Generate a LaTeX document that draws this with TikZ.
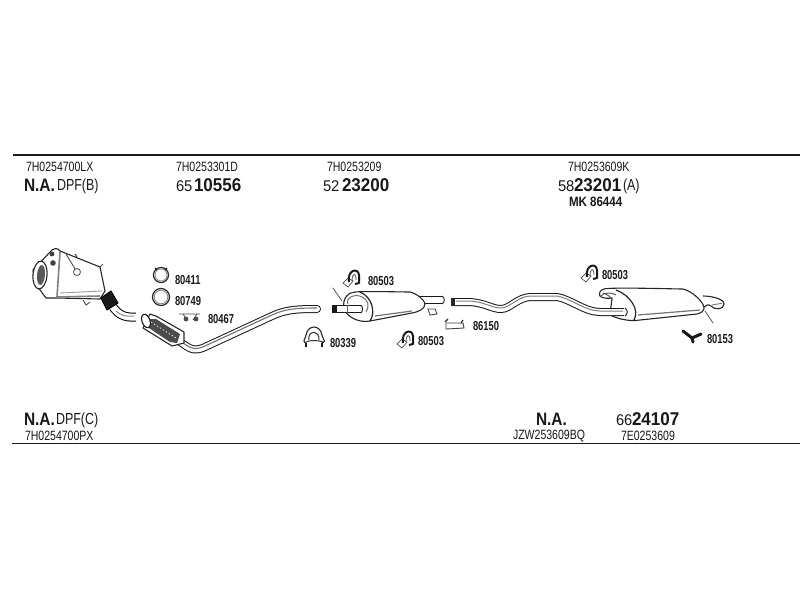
\documentclass[tikz,border=0pt]{standalone}
\usepackage{fontspec}
\setmainfont{Liberation Sans}
\newfontfamily\narf[FakeStretch=0.78]{Liberation Sans}
\newfontfamily\midf[FakeStretch=0.95]{Liberation Sans}
\newfontfamily\narb[FakeStretch=0.72]{Liberation Sans Bold}
\newfontfamily\nab[FakeStretch=0.86]{Liberation Sans Bold}
\newfontfamily\bigb[FakeStretch=0.92]{Liberation Sans Bold}
\begin{document}
\begin{tikzpicture}[x=1pt,y=-1pt,
  every node/.style={inner sep=0pt,outer sep=0pt,text=black!90,anchor=west},
  code/.style={font=\narf\fontsize{13.5}{14}\selectfont},
  small/.style={font=\narf\fontsize{16}{17}\selectfont},
  pre/.style={font=\midf\fontsize{15.5}{16}\selectfont},
  num/.style={font=\bigb\fontsize{18.5}{19}\selectfont},
  nalabel/.style={font=\nab\fontsize{18}{19}\selectfont},
  part/.style={font=\narb\fontsize{13}{14}\selectfont},
  ln/.style={draw=black!85,line width=1pt,line join=round,line cap=round},
  thin/.style={draw=black!60,line width=0.9pt,line cap=round},
  hanger/.pic={
    \fill[white,draw=black!70,line width=.7pt] (-9,6) -- (-4,1) -- (1,4) -- (-4,10) -- cycle;
    \draw[black!90,line width=2pt,line join=round] (-3,5) .. controls (-5,-7) and (6,-10) .. (7,-2) -- (7,6) -- (3,7);
    \draw[black!65,line width=.8pt] (0,4) .. controls (0,-4) and (4,-5) .. (4,3);
  }]
\useasboundingbox (0,0) rectangle (800,600);
\fill[white] (0,0) rectangle (800,600);
% rules
\coordinate (tl) at (13,155); \coordinate (tr) at (800,155);
\coordinate (bl) at (12,443.5); \coordinate (br) at (800,443.5);
\draw[black!90,line width=1.7pt] (tl) -- (tr);
\draw[black!90,line width=1.7pt] (bl) -- (br);
% top texts
\node[code] (t1) at (26,167) {7H0254700LX};
\node[nalabel] (t2) at (24,185) {N.A.};
\node[small] (t3) at (57,186) {DPF(B)};
\node[code] (t4) at (176,167) {7H0253301D};
\node[pre] (t5) at (176,186) {65};
\node[num] (t6) at (194,185) {10556};
\node[code] (t7) at (327,167) {7H0253209};
\node[pre] (t8) at (323,186) {52};
\node[num] (t9) at (342,185) {23200};
\node[code] (t10) at (568,167) {7H0253609K};
\node[pre] (t11) at (558,186) {58};
\node[num] (t12) at (574,185) {23201};
\node[small] (t13) at (623,186) {(A)};
\node[font=\nab\fontsize{13.5}{14}\selectfont] (t14) at (569,202) {MK\hspace{3pt}86444};
% bottom texts
\node[nalabel] (b1) at (24,419) {N.A.};
\node[small] (b2) at (56,420) {DPF(C)};
\node[code] (b3) at (25,436) {7H0254700PX};
\node[nalabel] (b4) at (536,419) {N.A.};
\node[code] (b5) at (513,436) {JZW253609BQ};
\node[pre] (b6) at (616,420) {66};
\node[num] (b7) at (632,419) {24107};
\node[code] (b8) at (621,436) {7E0253609};
% part labels
\node[part] (p1) at (175,280) {80411};
\node[part] (p2) at (175,301) {80749};
\node[part] (p3) at (208,319) {80467};
\node[part] (p4) at (368,281) {80503};
\node[part] (p5) at (330,343) {80339};
\node[part] (p6) at (418,341) {80503};
\node[part] (p7) at (473,326) {86150};
\node[part] (p8) at (602,275) {80503};
\node[part] (p9) at (707,339) {80153};
% DPF canister
\draw[ln,fill=white,line width=1.1pt] (52,250) .. controls (55,248) and (58,248) .. (60,251)
  -- (100,267) -- (105,291) -- (100,299) -- (57,298) -- (46,298) -- (35,283) -- (33,270) -- cycle;
\draw[black!50,line width=1.6pt] (60,252) -- (57,297) -- (100,296);
\draw[black!40,line width=.9pt] (60,293) -- (102,291);
\fill[white,draw=black!85,line width=1.1pt,rotate around={-5:(40,275)}] (40,275) ellipse (7 and 14);
\fill[black!65,rotate around={-5:(41,275)}] (41,275) ellipse (4 and 10);
\fill[black!75] (52,254) circle (2.4) (53,263) circle (2.8);
\draw[black!70,line width=.9pt] (66,254) -- (77,272);
\draw[black!70,line width=.8pt,fill=white] (77,272) circle (3.5);
\draw[black!70,line width=1pt] (75,254) -- (77,257) (100,267) -- (103,264);
\draw[black!70,line width=.9pt,fill=white] (83,300) -- (86,305) -- (90,302);
% flex and outlet
\draw[black,line width=9pt,line cap=butt] (113,307) .. controls (118,314) and (124,318) .. (136,317);
\draw[white,line width=7pt,line cap=round] (113,307) .. controls (118,314) and (124,318) .. (136,317);
\draw[black!45,line width=1pt] (116,311) .. controls (120,315) and (125,317) .. (134,316);
\fill[black!90,line join=round,draw=black,line width=1pt] (101,298) -- (111,291) -- (118,303) -- (107,310) -- cycle;
% front pipe
\draw[black!90,line width=8pt,line cap=round,line join=round] (170,335) -- (186,346) .. controls (192,350) and (196,351) .. (205,347) -- (272,316) .. controls (285,310) and (295,309) .. (317,309);
\draw[white,line width=6pt,line cap=round,line join=round] (170,335) -- (186,346) .. controls (192,350) and (196,351) .. (205,347) -- (272,316) .. controls (285,310) and (295,309) .. (317,309);
\draw[black!55,line width=1.1pt,line join=round] (172,335) -- (186,345) .. controls (192,349) and (196,350) .. (205,346) -- (272,315) .. controls (285,309) and (295,308) .. (317,308);
\fill[white,draw=black!85,line width=1.1pt,line join=round] (150,314) -- (156,316) -- (184,332) -- (184,343) -- (172,346) -- (143,328) -- cycle;
\fill[black!70] (148,319) -- (156,319) -- (180,334) -- (177,343) -- (170,342) -- (146,326) -- cycle;
\draw[white,line width=.6pt,dash pattern=on 1.5pt off 2pt] (151,322) -- (176,338);
\fill[white,draw=black!90,line width=1.1pt,rotate around={20:(146,321)}] (146,321) ellipse (4 and 7);
% rings
\draw[black!85,line width=1.2pt] (161,275) circle (7.5);
\draw[black!45,line width=.8pt] (161,275) circle (6);
\draw[black!90,line width=1.2pt] (155,268) -- (157,270) (167,268) -- (165,270);
\draw[black!85,line width=1.2pt] (161,297) circle (8.5);
\draw[black!45,line width=.9pt] (161,297) circle (6.8);
% gasket 80467
\draw[black!70,line width=.8pt] (179,314) -- (200,314) (183,314) -- (187,320) (197,314) -- (193,320);
\fill[black!70] (186,319) circle (2.4) (196,319) circle (2.4);
% clamp 80339
\draw[black!85,line width=1.1pt,line join=round] (306,346) -- (306,343) .. controls (303,342) and (304,340) .. (305,338) .. controls (307,334) and (306,328) .. (314,327)
  .. controls (322,328) and (321,334) .. (323,338) .. controls (325,340) and (325,342) .. (322,343) -- (322,346);
\draw[black!80,line width=1pt] (306,342) .. controls (311,340) and (317,340) .. (323,342);
\draw[black!80,line width=1pt] (309,340) .. controls (307,330) and (320,330) .. (319,340);
\draw[black!90,line width=1.8pt] (306,343) -- (306,347) (322,343) -- (322,347);
% hangers
\pic at (352,277) {hanger};
\pic at (406,338) {hanger};
\pic at (590,272) {hanger};
% mid muffler
\draw[thin] (333,288) -- (342,301);
\draw[black!90,line width=8pt,line cap=butt] (420,300) -- (443,300);
\draw[white,line width=6pt,line cap=round] (420,300) -- (442,300);
\draw[black!90,line width=.9pt,fill=white] (442,296) .. controls (445,297) and (445,303) .. (442,304);
\draw[black!75,line width=.9pt,fill=white] (428,309) -- (435,309) -- (437,314) -- (430,315) -- cycle;
\draw[ln,fill=white,line width=1.1pt] (355,292) .. controls (365,291) and (400,292) .. (410,292) .. controls (418,294) and (425,301) .. (425,304)
  .. controls (425,309) and (418,312) .. (412,313) -- (370,321) .. controls (360,323) and (347,318) .. (344,308) .. controls (342,298) and (349,292) .. (355,292) -- cycle;
\draw[black!85,line width=1.2pt] (360,292) .. controls (372,297) and (376,312) .. (370,321);
\draw[black!55,line width=1.2pt] (375,316) -- (412,311);
\draw[black!60,line width=.9pt] (348,304) .. controls (345,298) and (355,293) .. (362,297) .. controls (368,300) and (370,305) .. (366,312);
\draw[black!90,line width=8pt,line cap=butt] (335,309) -- (361,309);
\draw[white,line width=6pt,line cap=butt] (337,309) -- (361,309);
\draw[black!90,line width=.9pt] (361,305) .. controls (363,307) and (363,311) .. (361,313);
\draw[black!60,line width=.8pt] (347,305) -- (347,313);
\fill[black!90] (332,305) rectangle (337,313);
% clip 86150
\draw[black!75,line width=.9pt,fill=white] (446,323) -- (463,323) -- (464,328) -- (446,329) -- cycle;
\draw[black!85,line width=1.2pt] (445,322) -- (448,319) (461,323) -- (463,320);
% rear muffler tail
\draw[black!85,line width=1.1pt,fill=white] (703,296) .. controls (712,296) and (724,299) .. (724,304) .. controls (724,310) and (714,310) .. (711,306) .. controls (708,304) and (706,305) .. (704,307);
\draw[black!60,line width=.8pt] (712,305) .. controls (716,304) and (720,304) .. (722,303);
\draw[thin] (705,311) -- (713,323);
% rear muffler
\draw[ln,fill=white,line width=1.1pt] (604,289) .. controls (610,287) and (675,289) .. (683,289) .. controls (692,291) and (704,302) .. (704,308)
  .. controls (704,311) and (701,313) .. (697,314) -- (640,320) .. controls (628,322) and (616,318) .. (610,315) -- (612,298) .. controls (596,300) and (597,291) .. (604,289) -- cycle;
\draw[black!85,line width=1.2pt] (616,290) .. controls (630,295) and (640,310) .. (634,320);
\draw[black!55,line width=1.2pt] (638,315) -- (700,310);
\draw[black!70,line width=.9pt] (600,297) .. controls (603,292) and (612,292) .. (616,295) (603,293) .. controls (608,295) and (612,297) .. (612,301);
% rear pipe
\draw[black!90,line width=8pt,line cap=butt,line join=round] (452,302) -- (470,302) .. controls (485,303) and (492,309) .. (501,309) .. controls (510,309) and (518,297) .. (531,297) -- (557,297) .. controls (570,299) and (585,312) .. (600,312) -- (624,312);
\draw[white,line width=6pt,line cap=round,line join=round] (454,302) -- (470,302) .. controls (485,303) and (492,309) .. (501,309) .. controls (510,309) and (518,297) .. (531,297) -- (557,297) .. controls (570,299) and (585,312) .. (600,312) -- (625,312);
\draw[black!50,line width=1pt] (456,301) -- (470,301) .. controls (485,302) and (492,308) .. (501,308) .. controls (510,308) and (518,296) .. (531,296) -- (557,296) .. controls (570,298) and (585,311) .. (600,311) -- (623,311);
\draw[black!90,line width=.9pt] (625,308) .. controls (628,309.5) and (628,314.5) .. (625,316);
\fill[black!85] (450.5,298) rectangle (455,306);
% Y bracket 80153
\draw[black!90,line width=3pt,line join=round,line cap=round] (683,331) -- (692,338) -- (701,334);
\draw[black!90,line width=3pt,line cap=round] (692,338) -- (693,342);
\end{tikzpicture}
\end{document}
